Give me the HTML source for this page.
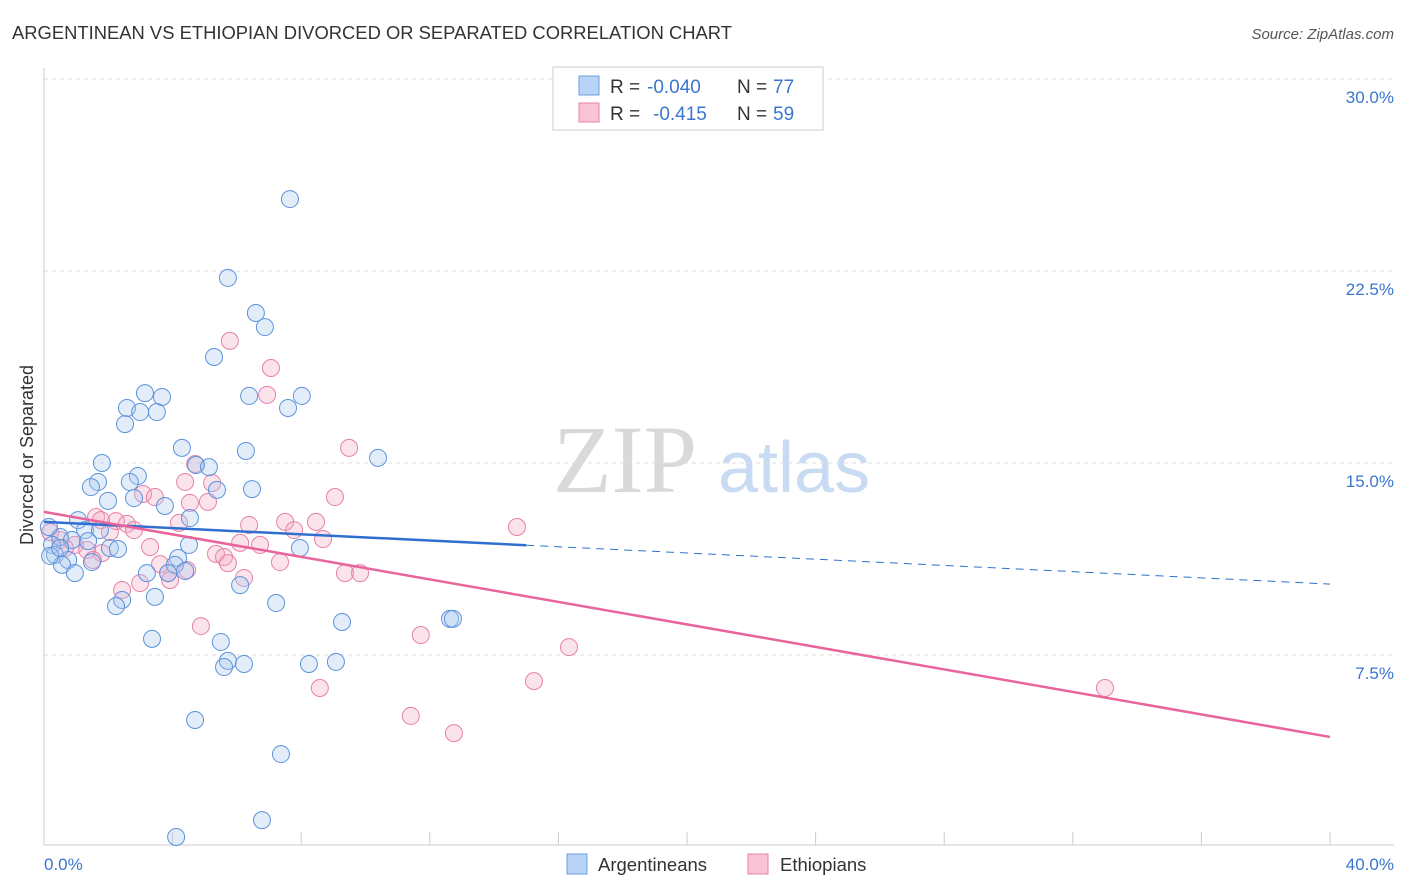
<!DOCTYPE html>
<html><head><meta charset="utf-8"><style>
body{margin:0;background:#fff;font-family:"Liberation Sans",sans-serif;}
svg{display:block}
</style></head><body>
<svg id="chart" width="1406" height="892">
<text x="12" y="39" font-size="18" fill="#333" textLength="720" lengthAdjust="spacingAndGlyphs">ARGENTINEAN VS ETHIOPIAN DIVORCED OR SEPARATED CORRELATION CHART</text>
<text x="1394" y="39" font-size="15" fill="#555" font-style="italic" text-anchor="end">Source: ZipAtlas.com</text>
<g>
<text x="553" y="492" font-family="Liberation Serif,serif" font-size="96" fill="#d9d9d9">ZIP</text>
<text x="718" y="492" font-size="72" fill="#c9dbf3">atlas</text>
</g>
<g id="grid"></g>
<line x1="44" y1="68" x2="44" y2="845" stroke="#ccc"/>
<line x1="44" y1="845" x2="1394" y2="845" stroke="#ccc"/>
<g id="xticks"></g>
<text x="44" y="870" font-size="17" fill="#3a76d0">0.0%</text>
<text x="1394" y="870" font-size="17" fill="#3a76d0" text-anchor="end">40.0%</text>
<text transform="translate(33,455) rotate(-90)" font-size="18" fill="#333" text-anchor="middle">Divorced or Separated</text>
<g id="pts"></g>
<g id="lines"></g>
<g>
<rect x="553" y="67" width="270" height="63" fill="#fff" stroke="#ccc"/>
<rect x="579" y="76" width="20" height="19" fill="#b8d3f5" stroke="#6a9fe0"/>
<rect x="579" y="103" width="20" height="19" fill="#f8c4d6" stroke="#e880a8"/>
<text x="610" y="93" font-size="19" fill="#333">R =</text>
<text x="647" y="93" font-size="19" fill="#3a76d0">-0.040</text>
<text x="737" y="93" font-size="19" fill="#333">N =</text>
<text x="773" y="93" font-size="19" fill="#3a76d0">77</text>
<text x="610" y="120" font-size="19" fill="#333">R =</text>
<text x="653" y="120" font-size="19" fill="#3a76d0">-0.415</text>
<text x="737" y="120" font-size="19" fill="#333">N =</text>
<text x="773" y="120" font-size="19" fill="#3a76d0">59</text>
</g>
<g>
<rect x="567" y="854" width="20" height="20" fill="#b8d3f5" stroke="#6a9fe0"/>
<text x="598" y="871" font-size="18.5" fill="#333">Argentineans</text>
<rect x="748" y="854" width="20" height="20" fill="#f8c4d6" stroke="#e880a8"/>
<text x="780" y="871" font-size="18.5" fill="#333">Ethiopians</text>
</g>
</svg>
<script>
const yTicks=[7.5,15,22.5,30];
const yTickLabels=["7.5%","15.0%","22.5%","30.0%"];
const xTickVals=[0,4,8,12,16,20,24,28,32,36,40];
const blueX=[7.65,5.72,6.59,6.87,5.29,3.14,3.67,6.38,8.02,2.58,2.99,3.51,7.59,2.52,4.29,6.28,10.39,1.80,4.73,5.13,2.92,1.68,1.46,2.67,5.38,6.47,1.99,2.80,3.76,4.54,1.06,1.28,1.74,0.50,0.87,1.37,0.25,2.05,2.30,4.51,7.96,0.34,0.75,0.56,1.49,4.17,4.07,3.20,3.86,4.39,0.96,6.10,2.43,2.24,3.45,7.22,12.63,9.27,3.36,5.50,5.72,5.60,6.22,8.24,9.08,4.70,7.37,6.78,4.11,0.15,0.19,0.50,12.72];
const blueY=[25.31,22.23,20.86,20.31,19.14,17.73,17.58,17.62,17.62,17.15,16.99,16.99,17.15,16.52,15.59,15.47,15.20,15.0,14.92,14.84,14.49,14.26,14.06,14.26,13.95,13.98,13.52,13.63,13.32,12.85,12.77,12.38,12.38,12.11,11.99,11.95,11.80,11.68,11.64,11.80,11.68,11.41,11.21,11.02,11.13,11.29,11.02,10.70,10.70,10.78,10.70,10.23,9.65,9.41,9.77,9.53,8.91,8.79,8.13,8.01,7.27,7.03,7.15,7.15,7.23,4.96,3.63,1.05,0.39,12.5,11.37,11.68,8.91];
const pinkX=[5.78,7.06,6.94,9.49,4.70,9.05,4.39,5.23,3.08,3.45,5.10,4.54,1.62,2.24,2.58,2.80,1.77,4.20,6.38,7.50,8.46,7.78,2.05,14.71,8.68,0.50,0.96,3.30,6.10,6.72,1.34,1.80,5.35,5.60,5.72,7.34,1.52,3.61,3.86,4.45,6.22,9.36,9.83,2.43,2.99,3.92,4.88,11.72,16.33,15.24,8.58,33.0,11.41,12.75,0.19,0.65];
const pinkY=[19.77,18.71,17.66,15.59,14.96,13.67,14.26,14.22,13.79,13.67,13.48,13.44,12.89,12.73,12.62,12.38,12.77,12.66,12.58,12.70,12.70,12.38,12.30,12.50,12.03,11.99,11.80,11.72,11.88,11.80,11.60,11.48,11.45,11.33,11.09,11.13,11.21,11.05,10.70,10.82,10.51,10.70,10.70,10.04,10.31,10.43,8.63,8.28,7.81,6.48,6.21,6.21,5.12,4.45,12.30,11.68];
const blueTrend=[12.70,10.27];
const blueSolidEnd=15.0;
const pinkTrend=[13.09,4.30];

const X=v=>44+v/40*1286;
const Y=v=>847-v*25.6;
const NS="http://www.w3.org/2000/svg";
function mk(tag,attrs,parent){const e=document.createElementNS(NS,tag);for(const k in attrs)e.setAttribute(k,attrs[k]);parent.appendChild(e);return e;}
const grid=document.getElementById('grid');
yTicks.forEach((t,i)=>{
  const l=mk('line',{x1:44,x2:1394,y1:Y(t),y2:Y(t),stroke:'#ddd','stroke-dasharray':'4,4'},grid);
  
  
  const tx=mk('text',{x:1394,y:Y(t)+24,'font-size':17,fill:'#3a76d0','text-anchor':'end'},grid);
  tx.textContent=yTickLabels[i];
  
  
});
const xt=document.getElementById('xticks');
xTickVals.forEach(v=>{
  const l=mk('line',{x1:X(v),x2:X(v),y1:832,y2:845,stroke:'#ccc'},xt);
  
  
});
const pts=document.getElementById('pts');
function dots(xs,ys,fill,stroke,name){
  xs.forEach((x,i)=>{
    const c=mk('circle',{cx:X(x),cy:Y(ys[i]),r:8.5,fill:fill,'fill-opacity':0.32,stroke:stroke,'stroke-width':1},pts);
    
    
  });
}
dots(pinkX,pinkY,'#f4a8c4','#e880a8','ethiopian-point');
dots(blueX,blueY,'#a8c8f0','#5b93dc','argentinean-point');
const ln=document.getElementById('lines');
const by=x=>blueTrend[0]+(blueTrend[1]-blueTrend[0])*x/40;
let a=mk('line',{x1:X(0),y1:Y(by(0)),x2:X(blueSolidEnd),y2:Y(by(blueSolidEnd)),stroke:'#2f6fd0','stroke-width':2.5},ln);


let b=mk('line',{x1:X(blueSolidEnd),y1:Y(by(blueSolidEnd)),x2:X(40),y2:Y(by(40)),stroke:'#2f6fd0','stroke-width':1,'stroke-dasharray':'8,6'},ln);


let p=mk('line',{x1:X(0),y1:Y(pinkTrend[0]),x2:X(40),y2:Y(pinkTrend[1]),stroke:'#e8649a','stroke-width':2.5},ln);


</script>
</body></html>
